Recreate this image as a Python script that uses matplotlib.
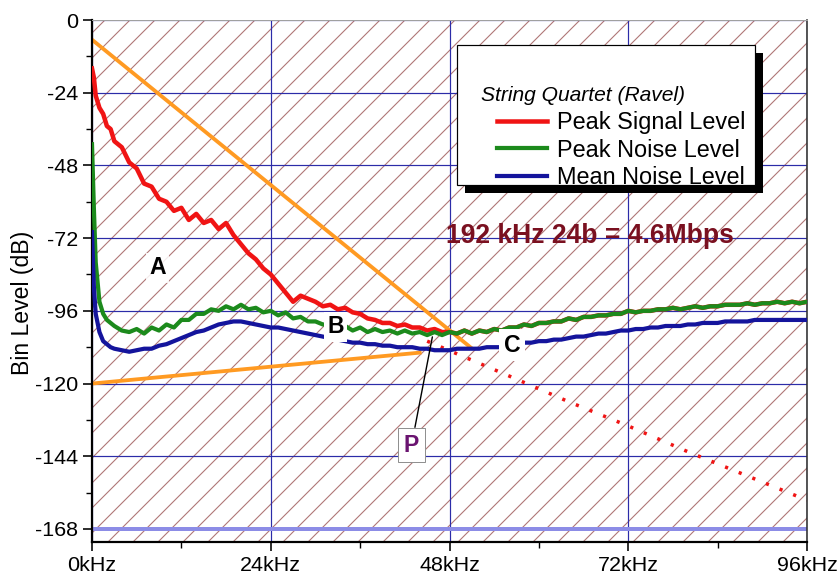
import numpy as np
import matplotlib
matplotlib.use("Agg")
import matplotlib.pyplot as plt
from matplotlib.patches import Rectangle

DPI = 75


def px(v):
    # pixel size -> points at this dpi
    return v * 72.0 / DPI


# ---- data ----
freq_khz = [0, 0.25, 0.5, 1, 1.5, 2, 2.5] + list(range(3, 97))

peak_signal = [
    -16, -19, -25, -29, -31, -35, -36,
    -40, -42, -47, -49, -54, -55, -59, -60, -63, -62,              # 3-12
    -66, -64, -67, -66, -69, -67, -71, -74, -77, -79,              # 13-22
    -82, -84, -87, -90, -93, -91, -92, -93, -94.5, -94,            # 23-32
    -95.5, -95, -96.5, -97, -98.5, -99, -100, -100, -101, -100.5,  # 33-42
    -101.5, -101.5, -102.5, -102, -103, -103, -103.5, -102.5, -103.5, -102.5,
    -103, -102, -102.5, -101.5, -101.5, -100.5, -101, -100, -100, -99.5,
    -99.5, -98.5, -99, -98, -98, -97.5, -97.5, -97, -97, -96,
    -96.5, -96, -96, -95.5, -95.5, -95, -95.5, -95, -94.5, -95,
    -94.5, -94.5, -94, -94, -94, -93.5, -94, -93.5, -93.5, -93,
    -93.5, -93, -93.5, -93,
]

peak_noise = [
    -41, -62, -80, -93, -97, -99, -100,
    -101, -102.5, -103, -102, -103.5, -101.5, -102.5, -100.5, -101.5, -99,
    -99, -97, -97, -95.5, -96, -94.5, -95.5, -94, -95.5, -95,
    -96.5, -96, -97.5, -96.5, -98.5, -98, -99.5, -99.5, -100.5, -100.5,
    -101.5, -101, -102.5, -101.5, -103, -102, -103, -102.5, -103.5, -102.5,
    -103.5, -103, -104, -103, -104, -103, -103.5, -102.5, -103.5, -102.5,
    -103, -102, -102.5, -101.5, -101.5, -100.5, -101, -100, -100, -99.5,
    -99.5, -98.5, -99, -98, -98, -97.5, -97.5, -97, -97, -96,
    -96.5, -96, -96, -95.5, -95.5, -95, -95.5, -95, -94.5, -95,
    -94.5, -94.5, -94, -94, -94, -93.5, -94, -93.5, -93.5, -93,
    -93.5, -93, -93.5, -93,
]

mean_noise = [
    -70, -88, -97, -103, -106, -107, -108,
    -108.5, -109, -109.5, -109, -108.5, -108.5, -107.5, -107, -106, -105,
    -104, -103, -102.5, -101.5, -100.5, -100, -99.5, -99.5, -100, -100.5,
    -101, -101.5, -101.5, -102, -102.5, -103, -103.5, -104, -104.5, -105,
    -105.5, -106, -106.5, -106.5, -107, -107, -107.5, -107.5, -108, -108,
    -108, -108.5, -108.5, -109, -109, -109, -108.5, -108.5, -108.5, -108.5,
    -108, -108, -108, -107.5, -107, -106.5, -106.5, -106, -106, -105.5,
    -105.5, -105, -104.5, -104.5, -104, -103.5, -103.5, -103, -102.5, -102.5,
    -102, -102, -101.5, -101.5, -101, -101, -101, -100.5, -100.5, -100,
    -100, -100, -99.5, -99.5, -99.5, -99.5, -99, -99, -99, -99,
    -99, -99, -99, -99,
]

# extrapolated signal (dotted)
extrap_khz = [45, 56, 64, 72, 80, 88, 96]
extrap_db = [-106, -117.5, -126, -134, -142.5, -150.5, -158.5]

# orange guide lines
upper_guide_khz = [0, 50.8]
upper_guide_db = [-6.5, -108]
lower_guide_khz = [0, 44]
lower_guide_db = [-120, -109.8]

x_ticks = [0, 24, 48, 72, 96]
x_tick_labels = ["0kHz", "24kHz", "48kHz", "72kHz", "96kHz"]
y_ticks = [-168, -144, -120, -96, -72, -48, -24, 0]

series_names = ["Peak Signal Level", "Peak Noise Level", "Mean Noise Level"]

RED = "#f01414"
GREEN = "#1c8a1c"
BLUE = "#14149c"
ORANGE = "#ff9a22"
HATCH = "#b07676"

plt.rcParams["font.family"] = ["Liberation Sans", "DejaVu Sans"]
plt.rcParams["hatch.linewidth"] = px(1.1)
plt.rcParams["hatch.color"] = HATCH

fig = plt.figure(figsize=(838 / DPI, 577 / DPI), dpi=DPI)
fig.patch.set_facecolor("white")
ax = fig.add_axes([92 / 838, 35 / 577, 715 / 838, 522 / 577])

# hatched background
ax.add_patch(Rectangle((0, 0), 1, 1, transform=ax.transAxes, facecolor="white",
                       edgecolor=HATCH, hatch="/", linewidth=0, zorder=0))

ax.set_xlim(0, 96)
ax.set_ylim(-172.3, 0)
ax.set_axisbelow(True)
ax.grid(which="major", color="#2c2ca8", lw=px(1.2))
ax.axhline(-168, color="#8c8ce6", lw=px(4), zorder=0.6)

# curves
ax.plot(lower_guide_khz, lower_guide_db, color=ORANGE, lw=px(3.8), zorder=2)
ax.plot(upper_guide_khz, upper_guide_db, color=ORANGE, lw=px(3.8), zorder=2)
ax.plot(extrap_khz, extrap_db, color=RED, lw=px(3.5), linestyle=(0, (0.9, 3.3)), zorder=2)
l_red, = ax.plot(freq_khz, peak_signal, color=RED, lw=px(4.5), zorder=3)
l_green, = ax.plot(freq_khz, peak_noise, color=GREEN, lw=px(4.2), zorder=4)
l_blue, = ax.plot(freq_khz, mean_noise, color=BLUE, lw=px(4.2), zorder=4)

# region labels
lab_kw = dict(fontsize=px(23), fontweight="bold", ha="center", va="center", zorder=6)
ax.text(8.8, -81.8, "A", bbox=dict(boxstyle="square,pad=0.15", fc="white", ec="none", alpha=0.85), **lab_kw)
ax.text(32.7, -101.3, "B", bbox=dict(boxstyle="square,pad=0.15", fc="white", ec="none"), **lab_kw)
ax.text(56.4, -107.3, "C", bbox=dict(boxstyle="square,pad=0.2", fc="white", ec="none"), **lab_kw)
ax.annotate("P", xy=(45.7, -104.6), xytext=(42.9, -140.3), fontsize=px(23), fontweight="bold",
            color="#6a1470", ha="center", va="center", zorder=6,
            bbox=dict(boxstyle="square,pad=0.25", fc="white", ec="#909090", lw=px(1)),
            arrowprops=dict(arrowstyle="-", color="black", lw=px(1.4), shrinkA=0, shrinkB=0))

ax.text(66.9, -71.3, "192 kHz 24b = 4.6Mbps", fontsize=px(26.5), fontweight="bold",
        color="#7a1020", ha="center", va="center", zorder=5)

# legend box with hard shadow
ax.add_patch(Rectangle((0.5217, 0.6686), 0.4168, 0.2682, transform=ax.transAxes,
                       facecolor="black", edgecolor="none", zorder=7))
ax.add_patch(Rectangle((0.5105, 0.6839), 0.4168, 0.2682, transform=ax.transAxes,
                       facecolor="white", edgecolor="black", lw=px(1.2), zorder=8))
ax.text(0.544, 0.856, "String Quartet (Ravel)", transform=ax.transAxes, fontsize=px(21),
        fontstyle="italic", ha="left", va="center", zorder=9)
leg = ax.legend([l_red, l_green, l_blue], series_names, loc="upper left",
                bbox_to_anchor=(0.566, 0.8257), frameon=False, fontsize=px(23.5),
                handlelength=2.15, handletextpad=0.4, labelspacing=0.2,
                borderpad=0, borderaxespad=0)
leg.set_zorder(9)

# axes styling
ax.set_xticks(x_ticks)
ax.set_xticklabels(x_tick_labels)
ax.set_xticks([12, 36, 60, 84], minor=True)
ax.set_yticks(y_ticks)
ax.set_yticklabels([str(v) for v in y_ticks])
ax.set_yticks([-156, -132, -108, -84, -60, -36, -12], minor=True)
ax.tick_params(which="major", direction="out", length=px(9), width=px(1.6),
               labelsize=px(21.5), pad=px(5), top=False, right=False)
ax.tick_params(which="minor", direction="out", length=px(6), width=px(1.4),
               top=False, right=False)
ax.set_ylabel("Bin Level (dB)", fontsize=px(23))
ax.yaxis.set_label_coords(-0.081, 0.458)

for side in ["left", "bottom"]:
    ax.spines[side].set_color("black")
    ax.spines[side].set_linewidth(px(2.2))
ax.spines["top"].set_color("#a0a0a0")
ax.spines["top"].set_linewidth(px(1))
ax.spines["right"].set_color("#303030")
ax.spines["right"].set_linewidth(px(1.6))

fig.savefig("out.png", dpi=DPI, facecolor="white")
